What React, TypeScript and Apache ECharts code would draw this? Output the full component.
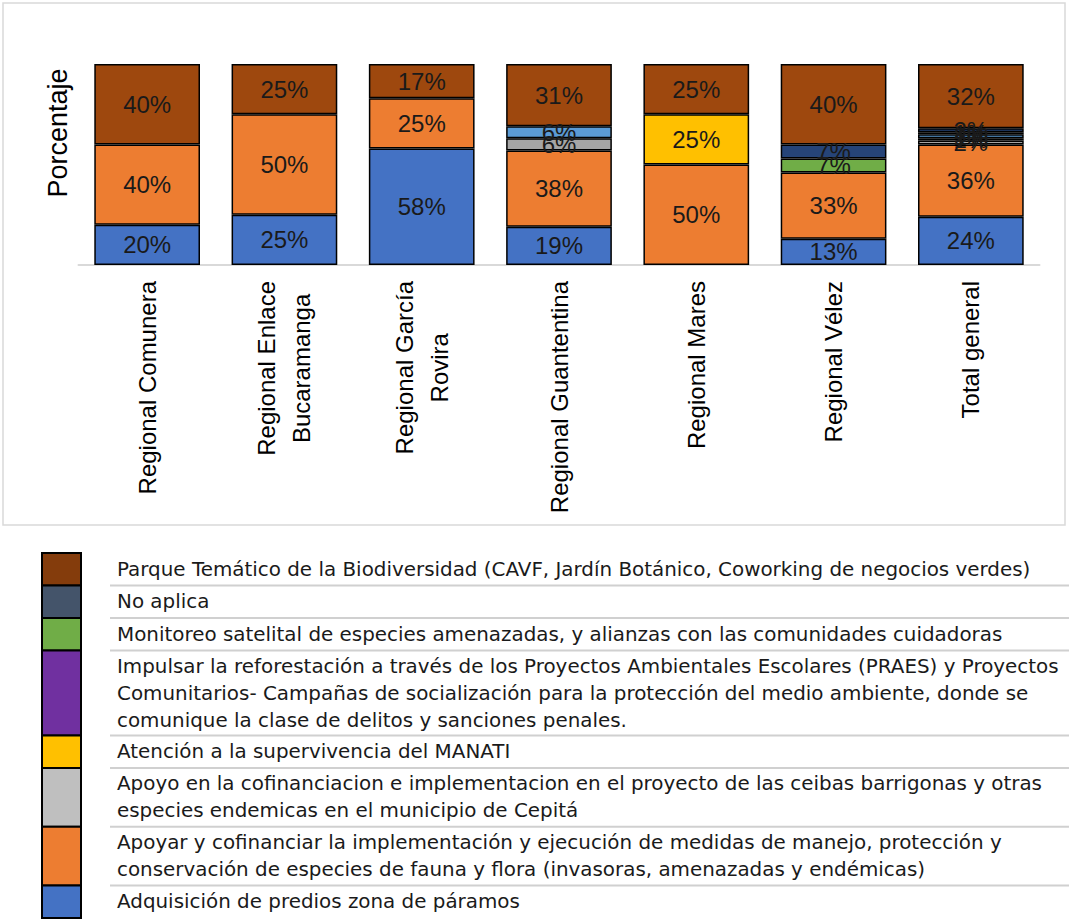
import React, { useEffect, useRef } from "react";
import * as echarts from "echarts";

const categories = [
  "Regional Comunera",
  "Regional Enlace\nBucaramanga",
  "Regional García\nRovira",
  "Regional Guantentina",
  "Regional Mares",
  "Regional Vélez",
  "Total general",
];

// stack order: bottom to top
const adquisicion = [20, 25, 58, 19, 0, 13, 24];
const apoyar = [40, 50, 25, 38, 50, 33, 36];
const ceibas = [0, 0, 0, 6, 0, 0, 2];
const manati = [0, 0, 0, 0, 25, 0, 1];
const impulsar = [0, 0, 0, 6, 0, 0, 2];
const monitoreo = [0, 0, 0, 0, 0, 7, 1];
const noAplica = [0, 0, 0, 0, 0, 7, 2];
const parque = [40, 25, 17, 31, 25, 40, 32];

const seriesNames = [
  "Adquisición de predios zona de páramos",
  "Apoyar y cofinanciar la implementación y ejecución de medidas de manejo, protección y conservación de especies de fauna y flora (invasoras, amenazadas y endémicas)",
  "Apoyo en la cofinanciacion e implementacion en el proyecto de las ceibas barrigonas y otras especies endemicas en el municipio de Cepitá",
  "Atención a la supervivencia del MANATI",
  "Impulsar la reforestación a través de los Proyectos Ambientales Escolares (PRAES) y Proyectos Comunitarios- Campañas de socialización para la protección del medio ambiente, donde se comunique la clase de delitos y sanciones penales.",
  "Monitoreo satelital de especies amenazadas, y alianzas con las comunidades cuidadoras",
  "No aplica",
  "Parque Temático de la Biodiversidad (CAVF, Jardín Botánico, Coworking de negocios verdes)",
];
const seriesValues = [adquisicion, apoyar, ceibas, manati, impulsar, monitoreo, noAplica, parque];
const barColors = ["#4472C4", "#ED7D31", "#A5A5A5", "#FFC000", "#5B9BD5", "#70AD47", "#264478", "#9E480E"];

// legend table, top to bottom
const legendLabels = [
  "Parque Temático de la Biodiversidad (CAVF, Jardín Botánico, Coworking de negocios verdes)",
  "No aplica",
  "Monitoreo satelital de especies amenazadas, y alianzas con las comunidades cuidadoras",
  "Impulsar la reforestación a través de los Proyectos Ambientales Escolares (PRAES) y Proyectos\nComunitarios- Campañas de socialización para la protección del medio ambiente, donde se\ncomunique la clase de delitos y sanciones penales.",
  "Atención a la supervivencia del MANATI",
  "Apoyo en la cofinanciacion e implementacion en el proyecto de las ceibas barrigonas y otras\nespecies endemicas en el municipio de Cepitá",
  "Apoyar y cofinanciar la implementación y ejecución de medidas de manejo, protección y\nconservación de especies de fauna y flora (invasoras, amenazadas y endémicas)",
  "Adquisición de predios zona de páramos",
];
const legendColors = ["#843C0C", "#44546A", "#70AD47", "#7030A0", "#FFC000", "#BFBFBF", "#ED7D31", "#4472C4"];

const yAxisTitle = "Porcentaje";

function buildLegendGraphics() {
  const els: any[] = [];
  let y = 553;
  const lh = 27;
  legendLabels.forEach((label, i) => {
    const n = label.split("\n").length;
    const h = 26.25 * n + 6.25;
    els.push({
      type: "rect",
      shape: { x: 42, y: y, width: 39, height: h },
      style: { fill: legendColors[i], stroke: "#000", lineWidth: 2 },
    });
    els.push({
      type: "text",
      x: 117,
      y: y + h / 2,
      style: {
        text: label,
        fill: "#1a1a1a",
        font: "19.9px 'DejaVu Sans'",
        lineHeight: lh,
        align: "left",
        verticalAlign: "middle",
      },
    });
    if (i < legendLabels.length - 1) {
      els.push({
        type: "line",
        shape: { x1: 110, y1: y + h, x2: 1069, y2: y + h },
        style: { stroke: "#D0D0D0", lineWidth: 2 },
      });
    }
    y += h;
  });
  return els;
}

export default function App() {
  const ref = useRef<HTMLDivElement>(null);
  useEffect(() => {
    document.body.style.margin = "0";
    const chart = echarts.init(ref.current!, null, { renderer: "svg" });
    const option: any = {
      animation: false,
      grid: { left: 78.5, right: 29.5, top: 64, bottom: 654 },
      xAxis: {
        type: "category",
        data: categories,
        axisLine: { lineStyle: { color: "#D9D9D9", width: 2 } },
        axisTick: { show: false },
        axisLabel: {
          rotate: 90,
          interval: 0,
          margin: 16,
          formatter: (v: string) =>
            v
              .split("\n")
              .map((s) => `{c|${s}}`)
              .join("\n"),
          rich: {
            c: {
              align: "center",
              fontSize: 24,
              lineHeight: 35,
              color: "#000",
              fontFamily: "'Liberation Sans'",
            },
          },
        },
      },
      yAxis: {
        type: "value",
        min: 0,
        max: 100,
        show: false,
        splitLine: { show: false },
      },
      series: seriesNames.map((name, i) => ({
        name,
        type: "bar",
        stack: "total",
        barWidth: "77%",
        data: seriesValues[i].map((v) => (v === 0 ? null : v)),
        itemStyle: { color: barColors[i], borderColor: "#000", borderWidth: 1.5 },
        label: {
          show: true,
          position: "inside",
          formatter: (p: any) => (p.value ? p.value + "%" : ""),
          color: "#1a1a1a",
          fontSize: 24,
          fontFamily: "'Liberation Sans'",
        },
      })),
      graphic: [
        {
          type: "rect",
          shape: { x: 3, y: 3, width: 1062, height: 522 },
          style: { fill: "none", stroke: "#D9D9D9", lineWidth: 1.5 },
        },
        {
          type: "text",
          x: 58,
          y: 133,
          rotation: Math.PI / 2,
          style: {
            text: yAxisTitle,
            fill: "#000",
            font: "27px 'Liberation Sans'",
            align: "center",
            verticalAlign: "middle",
          },
        },
        ...buildLegendGraphics(),
      ],
    };
    chart.setOption(option);
    return () => chart.dispose();
  }, []);
  return <div ref={ref} style={{ width: 1069, height: 919 }} />;
}
